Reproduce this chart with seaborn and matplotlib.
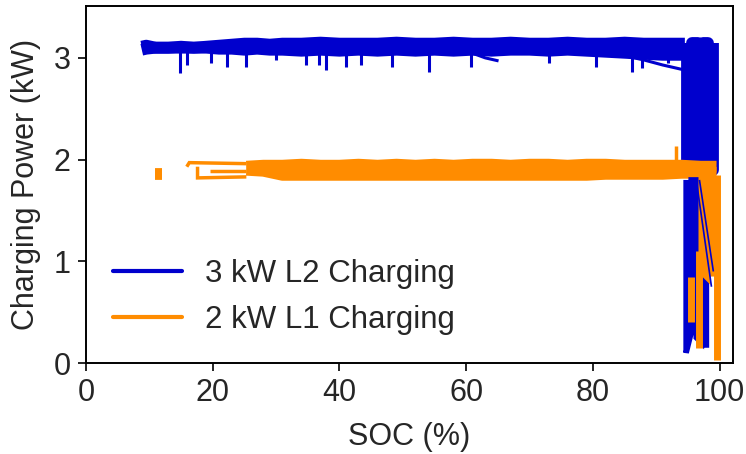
import matplotlib
matplotlib.use("Agg")
import matplotlib.pyplot as plt
from matplotlib.lines import Line2D
import pandas as pd
import seaborn as sns

# ---------------- data ----------------
series_labels = ["3 kW L2 Charging", "2 kW L1 Charging"]
x_ticks = [0, 20, 40, 60, 80, 100]
y_ticks = [0, 1, 2, 3]

# 3 kW L2 charging: main band (upper / lower envelope traces)
blue_soc = [8.8, 9.5, 11, 13, 15, 17, 19, 21, 23, 25, 27, 29, 31, 34, 37, 40, 43,
            46, 49, 52, 55, 58, 61, 64, 67, 70, 73, 76, 79, 82, 85, 88, 91, 94.5]
blue_upper = [3.11, 3.12, 3.10, 3.10, 3.11, 3.10, 3.11, 3.12, 3.13, 3.14, 3.14, 3.13,
              3.14, 3.14, 3.15, 3.14, 3.14, 3.14, 3.15, 3.14, 3.14, 3.15, 3.14, 3.14,
              3.15, 3.14, 3.14, 3.15, 3.14, 3.14, 3.15, 3.14, 3.14, 3.14]
blue_lower = [3.08, 3.09, 3.10, 3.10, 3.10, 3.10, 3.10, 3.09, 3.09, 3.08, 3.09, 3.08,
              3.08, 3.07, 3.08, 3.07, 3.08, 3.07, 3.08, 3.07, 3.08, 3.07, 3.08, 3.07,
              3.08, 3.08, 3.07, 3.08, 3.07, 3.06, 3.05, 3.04, 3.03, 3.03]
# short downward glitches of the 3 kW sessions
blue_dip_soc = [14.8, 15.9, 19.8, 22.3, 25.3, 30.0, 34.7, 36.8, 37.9, 41.1, 43.4,
                48.3, 54.1, 60.7, 73.0, 80.4, 86.1, 87.7, 91.9]
blue_dip_min = [2.85, 2.93, 2.95, 2.91, 2.91, 2.98, 2.93, 2.93, 2.88, 2.91, 2.93,
                2.91, 2.86, 2.91, 2.95, 2.91, 2.86, 2.90, 2.95]
blue_dip_top = 3.07
blue_slope1_soc = [60.8, 63.0, 65.1]
blue_slope1_pow = [3.05, 3.00, 2.97]
blue_slope2_soc = [85.0, 88.0, 91.0, 94.5]
blue_slope2_pow = [3.02, 2.98, 2.93, 2.88]
# taper near full charge
blue_block_soc = [94.9, 94.9, 95.7, 95.7, 96.5, 96.5, 97.3, 97.3, 98.1, 98.1, 98.9, 98.9]
blue_block_pow = [3.15, 1.90, 1.90, 3.15, 3.15, 1.90, 1.90, 3.15, 3.15, 1.90, 1.90, 3.15]
blue_drop_soc = [94.7, 94.7, 95.5, 95.5, 96.3, 96.3, 97.1, 97.1, 97.9, 97.9]
blue_drop_pow = [1.80, 0.10, 0.30, 1.80, 1.80, 0.25, 0.20, 1.20, 0.80, 0.15]
blue_diag1_soc = [96.3, 98.7]
blue_diag1_pow = [1.80, 0.75]
blue_diag2_soc = [96.8, 99.0]
blue_diag2_pow = [1.80, 0.90]

# 2 kW L1 charging: main band
orange_soc = [25.3, 28, 31, 34, 37, 40, 43, 46, 49, 52, 55, 58, 61, 64, 67, 70, 73,
              76, 79, 82, 85, 88, 91, 94, 97, 99.5]
orange_upper = [1.93, 1.94, 1.94, 1.95, 1.94, 1.94, 1.95, 1.94, 1.95, 1.94, 1.95,
                1.94, 1.95, 1.95, 1.94, 1.95, 1.95, 1.94, 1.95, 1.95, 1.94, 1.94,
                1.94, 1.94, 1.93, 1.93]
orange_lower = [1.90, 1.89, 1.85, 1.85, 1.85, 1.85, 1.85, 1.85, 1.85, 1.85, 1.85,
                1.85, 1.85, 1.85, 1.85, 1.85, 1.85, 1.85, 1.85, 1.86, 1.86, 1.86,
                1.86, 1.87, 1.87, 1.87]
orange_blob_soc = [10.9, 12.0]
orange_blob_pow = [1.86, 1.86]
orange_left_top_soc = [15.9, 16.3, 25.3]
orange_left_top_pow = [1.93, 1.97, 1.96]
orange_left_mid_soc = [19.5, 25.3]
orange_left_mid_pow = [1.89, 1.89]
orange_left_low_soc = [17.6, 17.6, 25.3]
orange_left_low_pow = [1.93, 1.82, 1.83]
orange_spike_soc = [93.1, 93.1]
orange_spike_pow = [1.95, 2.13]
# taper near full charge
orange_col_soc = [99.6, 99.6]
orange_col_pow = [1.85, 0.03]
orange_fill_soc = [97.2, 97.2, 98.0, 98.0, 98.8, 98.8]
orange_fill_pow = [1.85, 0.90, 0.85, 1.85, 1.85, 0.85]
orange_patch1_soc = [95.5, 95.5]
orange_patch1_pow = [0.85, 0.40]
orange_patch2_soc = [96.8, 96.8]
orange_patch2_pow = [1.10, 0.15]

BLUE = "#0000cd"
ORANGE = "#ff8c00"
palette = {series_labels[0]: BLUE, series_labels[1]: ORANGE}

# ---------------- build long-form tables ----------------
def table(traces):
    rows = []
    for name, mode, socs, pows in traces:
        for i, (s, p) in enumerate(zip(socs, pows)):
            rows.append({"trace": name, "mode": mode, "order": i, "SOC": s, "Power": p})
    return pd.DataFrame(rows)

L2, L1 = series_labels
blue_band = table([("bu", L2, blue_soc, blue_upper), ("bl", L2, blue_soc, blue_lower),
                   ("bb", L2, blue_block_soc, blue_block_pow)])
blue_dips = table([(f"d{i}", L2, [s, s], [blue_dip_top, m])
                   for i, (s, m) in enumerate(zip(blue_dip_soc, blue_dip_min))]
                  + [("s1", L2, blue_slope1_soc, blue_slope1_pow),
                     ("s2", L2, blue_slope2_soc, blue_slope2_pow)])
orange_band = table([("ou", L1, orange_soc, orange_upper), ("ol", L1, orange_soc, orange_lower),
                     ("ob", L1, orange_blob_soc, orange_blob_pow)])
orange_thin = table([("olt", L1, orange_left_top_soc, orange_left_top_pow),
                     ("olm", L1, orange_left_mid_soc, orange_left_mid_pow),
                     ("oll", L1, orange_left_low_soc, orange_left_low_pow),
                     ("osp", L1, orange_spike_soc, orange_spike_pow)])
blue_drops = table([("bd", L2, blue_drop_soc, blue_drop_pow)])
orange_drops = table([("oc", L1, orange_col_soc, orange_col_pow),
                      ("of", L1, orange_fill_soc, orange_fill_pow),
                      ("op1", L1, orange_patch1_soc, orange_patch1_pow),
                      ("op2", L1, orange_patch2_soc, orange_patch2_pow)])
blue_diags = table([("bg1", L2, blue_diag1_soc, blue_diag1_pow),
                    ("bg2", L2, blue_diag2_soc, blue_diag2_pow)])

# ---------------- plot ----------------
sns.set_theme(style="ticks")
plt.rcParams["font.family"] = ["Liberation Sans", "DejaVu Sans"]
TEXT = "#262626"

fig = plt.figure(figsize=(7.46, 4.54), dpi=100)
ax = fig.add_axes([0.1153, 0.2004, 0.8673, 0.7864])

def draw(df, lw, join="miter"):
    n0 = len(ax.lines)
    sns.lineplot(data=df, x="SOC", y="Power", hue="mode", units="trace",
                 estimator=None, sort=False, palette=palette,
                 legend=False, ax=ax)
    for ln in ax.lines[n0:]:
        ln.set_linewidth(lw)
        ln.set_solid_capstyle("butt")
        ln.set_solid_joinstyle(join)

draw(blue_band, 8.5, "round")
draw(blue_dips, 2.2, "round")
draw(orange_band, 8.5, "round")
draw(orange_thin, 2.5)
draw(blue_drops, 4.0)
draw(orange_drops, 5.0)
draw(blue_diags, 1.2)

ax.set_xlim(0, 102.1)
ax.set_ylim(0, 3.51)
ax.set_xticks(x_ticks)
ax.set_yticks(y_ticks)
ax.set_xlabel("SOC (%)", fontsize=22, color=TEXT, labelpad=10)
ax.set_ylabel("Charging Power (kW)", fontsize=22, color=TEXT, labelpad=9)
ax.tick_params(axis="both", labelsize=22, labelcolor=TEXT, length=6, width=1.2,
               color="black", direction="out", pad=5)
for sp in ax.spines.values():
    sp.set_color("black")
    sp.set_linewidth(1.4)

handles = [Line2D([], [], color=BLUE, lw=3), Line2D([], [], color=ORANGE, lw=3)]
leg = ax.legend(handles, series_labels, loc="center left",
                bbox_to_anchor=(0.042, 0.185), frameon=False, fontsize=22.5,
                handlelength=2.2, handletextpad=0.75, labelspacing=0.5,
                borderpad=0, borderaxespad=0)
for t in leg.get_texts():
    t.set_color(TEXT)

fig.savefig("out.png", dpi=100)
